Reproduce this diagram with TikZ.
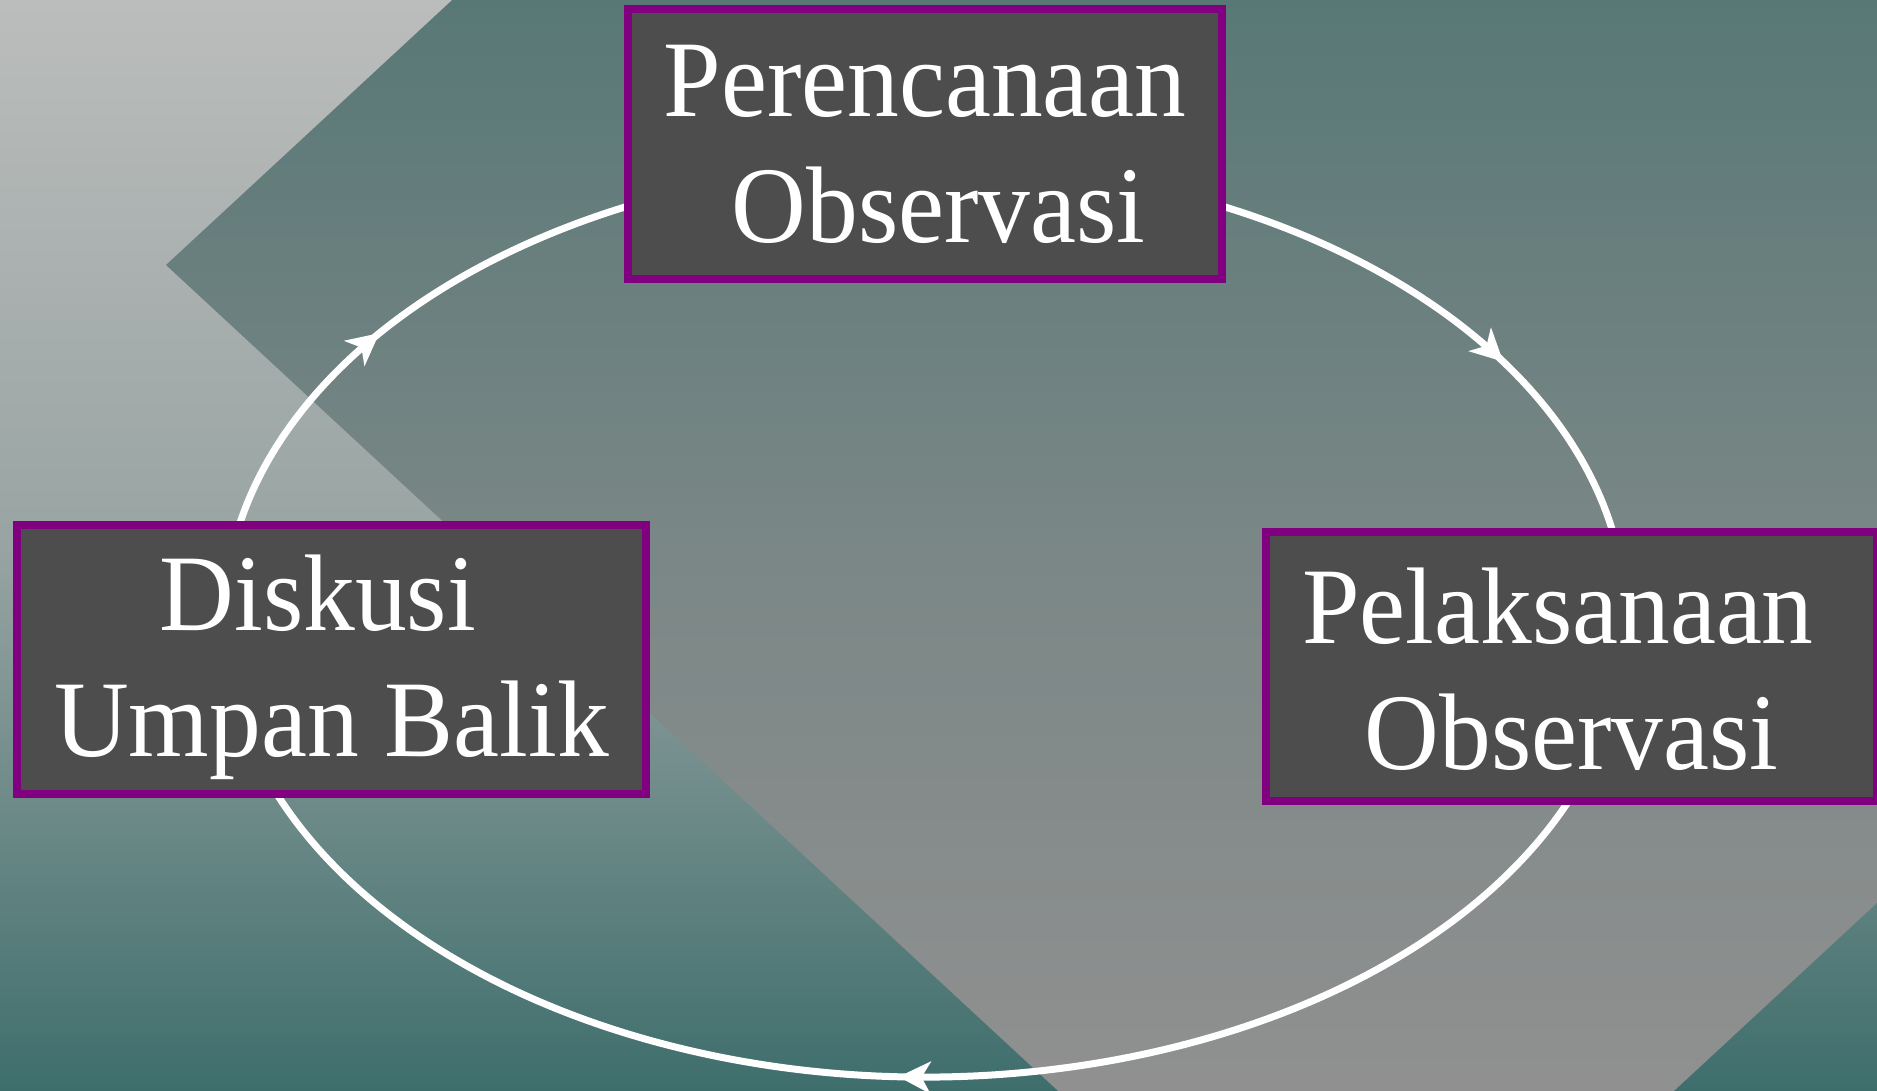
\documentclass[tikz,border=0pt]{standalone}
\usepackage{fontspec}
\usepackage{tikz}
\usetikzlibrary{arrows.meta,positioning,decorations.markings}
\newfontfamily\boxfont{Liberation Serif}[FakeStretch=0.95]
\definecolor{boxgray}{RGB}{77,77,77}
\definecolor{boxpurple}{RGB}{128,0,128}
\definecolor{bgtop}{RGB}{187,189,188}
\definecolor{bgmid}{RGB}{152,164,163}
\definecolor{bgbot}{RGB}{62,110,108}
\definecolor{dmtop}{RGB}{88,120,118}
\definecolor{dmmid}{RGB}{122,135,134}
\definecolor{dmbot}{RGB}{144,144,144}
\pgfdeclarelayer{backdrop}
\pgfdeclarelayer{cycle}
\pgfsetlayers{backdrop,cycle,main}

\begin{document}
\begin{tikzpicture}[
    stage/.style={draw=boxpurple, line width=0.08cm, fill=boxgray, text=white, align=center, inner sep=0pt, minimum height=2.69cm, font=\boxfont\fontsize{31}{35.9}\selectfont},
    cycleline/.style={white, line width=0.07cm},
    ring/.style={x radius=7.01, y radius=4.57},
    tipat/.style={postaction={decorate}, decoration={markings, mark=at position #1 with {\arrow{Stealth[length=0.32cm,width=0.32cm,inset=0.09cm]}}}}
]
\useasboundingbox (0,0) rectangle (18.77,10.90);

\node[stage, minimum width=5.94cm] (plan) at (9.25,9.46) {Perencanaan\\\kern0.25em Observasi};
\node[stage, minimum width=6.29cm] (diskusi) at (3.315,4.31) {\rule{0pt}{26pt}Diskusi\kern0.25em\\Umpan Balik};
\node[stage, minimum width=6.11cm] (laks) at (15.715,4.24) {\rule{0pt}{23.5pt}Pelaksanaan\kern0.25em\\Observasi};
\coordinate (hub) at (9.25,4.70);

\begin{pgfonlayer}{backdrop}
\shade[top color=bgtop, bottom color=bgbot, middle color=bgmid] (0,0) rectangle (18.77,10.90);
\begin{scope}
\clip (1.66,8.25) -- (13.66,19.36) -- (25.66,8.25) -- (13.66,-2.86) -- cycle;
\shade[top color=dmtop, bottom color=dmbot, middle color=dmmid] (0,0) rectangle (18.77,10.90);
\end{scope}
\end{pgfonlayer}

\begin{pgfonlayer}{cycle}
\draw[cycleline, tipat=0.46] ([shift={(168.5:7.01 and 4.57)}]hub) arc[ring, start angle=168.5, end angle=114.5];
\draw[cycleline, tipat=0.61] ([shift={(65.5:7.01 and 4.57)}]hub) arc[ring, start angle=65.5, end angle=10.3];
\draw[cycleline, tipat=0.515] ([shift={(-22.6:7.01 and 4.57)}]hub) arc[ring, start angle=-22.6, end angle=-158.4];
\end{pgfonlayer}
\end{tikzpicture}
\end{document}
